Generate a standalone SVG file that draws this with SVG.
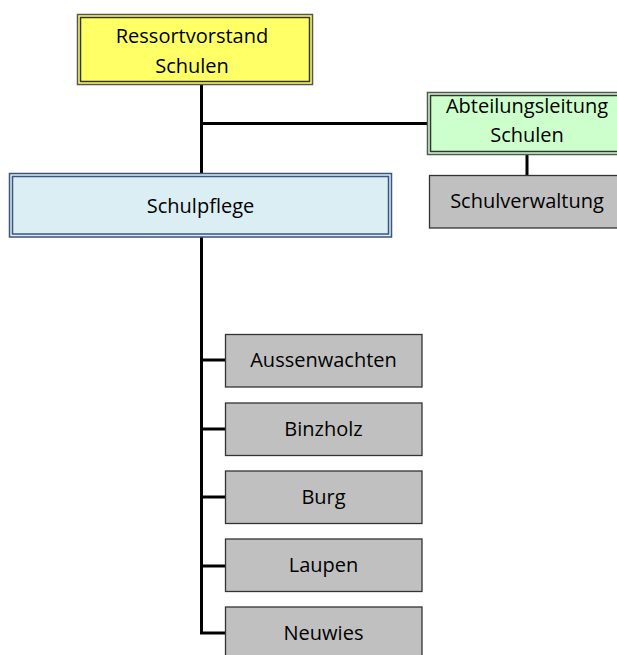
<svg xmlns="http://www.w3.org/2000/svg" width="617" height="655" viewBox="0 0 617 655">
<style>
text{font-family:"Open Sans","Noto Sans",sans-serif;font-size:20px;fill:#000;text-anchor:middle}
.con{stroke:#000;stroke-width:3;fill:none}
.gray{fill:#c0c0c0;stroke:#333;stroke-width:1.3}
</style>
<rect width="617" height="655" fill="#fff"/>
<g id="connectors">
<line class="con" x1="201.5" y1="84" x2="201.5" y2="173"/>
<line class="con" x1="201.5" y1="123.5" x2="427" y2="123.5"/>
<line class="con" x1="527" y1="154" x2="527" y2="175"/>
<polyline class="con" points="201.5,237 201.5,633 225,633"/>
<line class="con" x1="201.5" y1="360" x2="225" y2="360"/>
<line class="con" x1="201.5" y1="429" x2="225" y2="429"/>
<line class="con" x1="201.5" y1="497" x2="225" y2="497"/>
<line class="con" x1="201.5" y1="566" x2="225" y2="566"/>
</g>
<g id="ressortvorstand">
<rect x="77.5" y="14.5" width="235" height="70" fill="#ffff66" stroke="#555" stroke-width="1.5"/>
<rect x="80.5" y="17.5" width="229" height="64" fill="none" stroke="#333" stroke-width="1.5"/>
<text x="192" y="43">Ressortvorstand</text>
<text x="192" y="73">Schulen</text>
</g>
<g id="abteilungsleitung">
<rect x="427.5" y="92.5" width="200" height="62" fill="#ccffcc" stroke="#555" stroke-width="1.5"/>
<rect x="430.5" y="95.5" width="194" height="56" fill="none" stroke="#333" stroke-width="1.5"/>
<text x="527" y="113">Abteilungsleitung</text>
<text x="527" y="142">Schulen</text>
</g>
<g id="schulverwaltung">
<rect class="gray" x="429.5" y="175.5" width="200" height="52.5"/>
<text x="527" y="208">Schulverwaltung</text>
</g>
<g id="schulpflege">
<rect x="9.5" y="173.5" width="382" height="63.5" fill="#daeef3" stroke="#3a5680" stroke-width="1.5"/>
<rect x="12.5" y="176.5" width="376" height="57.5" fill="none" stroke="#3a5680" stroke-width="1.5"/>
<text x="200.5" y="213">Schulpflege</text>
</g>
<g id="aussenwachten">
<rect class="gray" x="225.5" y="334.5" width="196.5" height="52.5"/>
<text x="323.5" y="367">Aussenwachten</text>
</g>
<g id="binzholz">
<rect class="gray" x="225.5" y="403" width="196.5" height="52.5"/>
<text x="323.5" y="436">Binzholz</text>
</g>
<g id="burg">
<rect class="gray" x="225.5" y="471" width="196.5" height="52.5"/>
<text x="323.5" y="504">Burg</text>
</g>
<g id="laupen">
<rect class="gray" x="225.5" y="539" width="196.5" height="52.5"/>
<text x="323.5" y="572">Laupen</text>
</g>
<g id="neuwies">
<rect class="gray" x="225.5" y="607" width="196.5" height="52.5"/>
<text x="323.5" y="640">Neuwies</text>
</g>
</svg>
